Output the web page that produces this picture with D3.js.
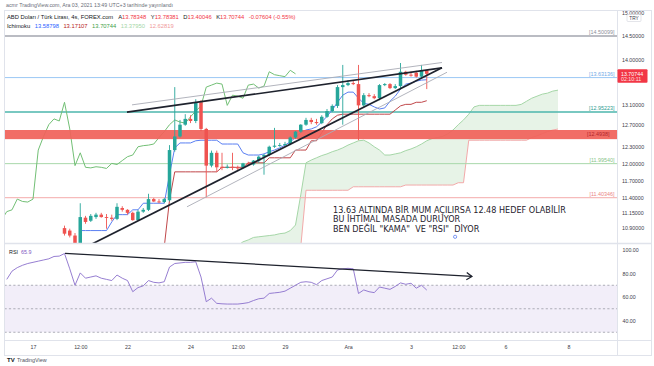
<!DOCTYPE html>
<html>
<head>
<meta charset="utf-8">
<script src="https://cdn.jsdelivr.net/npm/d3@7"></script>
<style>
html,body{margin:0;padding:0;background:#ffffff;overflow:hidden;}
svg{display:block;font-family:"Liberation Sans",Arial,sans-serif;}
</style>
</head>
<body>
<svg id="chart" width="654" height="366"></svg>
<script>
// ================= DATA =================
// 4h candles, bar index 0 = 17 Kas 00:00 ; first visible candle index:
const firstBar = 6;
const opens = [10.90,10.86,10.78,10.66,11.07,11.02,11.08,11.12,11.08,11.07,
  11.05,11.23,11.20,11.15,11.03,11.17,11.20,11.38,11.34,11.33,
  11.36,12.24,12.49,12.71,12.82,12.78,13.14,12.63,11.96,12.19,
  11.94,11.92,11.94,11.93,11.93,12.00,11.98,12.05,12.12,12.15,
  12.30,12.32,12.33,12.35,12.47,12.58,12.71,12.80,12.76,12.74,
  12.86,12.97,13.07,13.44,13.48,13.52,13.50,13.08,13.28,13.26,
  13.22,13.48,13.50,13.42,13.46,13.75,13.69,13.73,13.65,13.78348];
const highs = [10.94,10.89,10.82,11.31,11.10,11.13,11.15,11.15,11.13,11.12,
  11.31,11.26,11.21,11.17,11.20,11.23,11.47,11.40,11.38,11.40,
  12.33,13.44,12.80,12.91,12.89,13.20,13.18,12.65,12.23,12.23,
  12.19,11.98,12.19,11.96,12.01,12.03,12.06,12.14,12.17,12.32,
  12.65,12.37,12.39,12.49,12.59,12.72,12.84,12.84,12.82,12.89,
  13.01,13.10,13.48,13.89,13.58,13.56,13.89,13.32,13.32,13.30,
  13.50,13.52,13.52,13.50,13.93,13.77,13.75,13.77,13.89,13.78381];
const lows = [10.78,10.75,10.62,10.63,10.97,11.00,11.05,11.07,10.89,11.02,
  11.03,11.17,11.12,11.02,11.02,11.15,11.18,11.33,11.31,11.31,
  11.34,12.21,12.47,12.69,12.74,12.74,12.59,11.41,11.93,11.85,
  11.88,11.91,11.88,11.88,11.91,11.96,11.96,12.01,11.80,12.13,
  12.28,12.30,12.32,12.33,12.45,12.56,12.69,12.72,12.71,12.72,
  12.84,12.95,13.03,12.71,13.46,13.48,12.42,13.05,13.24,13.20,
  13.18,13.46,13.40,13.40,13.42,13.67,13.65,13.63,13.63,13.40046];
const closes = [10.81,10.78,10.66,11.08,11.00,11.10,11.12,11.08,11.07,11.05,
  11.25,11.20,11.15,11.03,11.17,11.20,11.38,11.34,11.33,11.38,
  12.24,12.49,12.71,12.82,12.78,13.14,12.63,11.96,12.19,11.93,
  11.92,11.94,11.93,11.91,12.00,11.98,12.05,12.12,12.15,12.30,
  12.32,12.33,12.35,12.47,12.58,12.71,12.80,12.76,12.74,12.86,
  12.97,13.07,13.44,13.48,13.52,13.50,13.08,13.28,13.26,13.22,
  13.48,13.50,13.42,13.46,13.75,13.69,13.67,13.65,13.78,13.70744];

// Ichimoku
const lineStart = 9;
const tenkan = [10.86,10.86,10.86,10.86,10.86,10.86,11.00,11.12,11.12,11.12,
  11.20,11.20,11.31,11.31,11.31,11.31,11.31,11.80,12.28,12.37,
  12.37,12.37,12.41,12.42,12.42,12.42,12.42,12.35,12.35,12.35,
  12.35,12.19,12.15,12.15,12.15,12.17,12.21,12.24,12.28,12.33,
  12.39,12.47,12.56,12.61,12.63,12.67,12.76,12.87,12.99,13.14,
  13.28,13.34,13.34,13.22,13.12,13.10,13.05,13.01,13.03,13.16,
  13.26,13.40,13.50,13.52,13.56,13.58,13.58798];
const kijun = [10.60,10.60,10.60,10.60,10.60,10.60,10.60,10.60,10.60,10.60,
  10.60,10.60,10.60,10.60,10.60,10.60,10.60,11.36,11.85,11.85,
  11.85,11.85,11.85,11.85,11.85,11.85,11.85,11.93,11.93,11.93,
  11.93,11.93,12.01,12.01,12.01,12.01,12.10,12.10,12.10,12.10,
  12.10,12.24,12.24,12.24,12.41,12.41,12.56,12.71,12.82,12.89,
  12.91,12.91,12.91,12.91,12.91,12.91,12.91,12.91,12.91,12.91,
  12.99,13.07,13.10,13.10,13.14,13.14,13.17107];
const chikouShift = 25;
// leading spans, given at their plotted bar index
const senkouPlotStart = 30;
const senkouA = [10.62,10.62,10.62,10.62,10.62,10.62,10.62,10.62,10.62,10.62,
  10.68,10.71,10.75,10.76,10.77,10.78,10.79,10.81,10.82,10.86,
  10.95,11.45,12.01,12.06,12.10,12.14,12.17,12.21,12.24,12.28,
  12.33,12.37,12.41,12.42,12.37,12.30,12.24,12.15,12.15,12.17,
  12.19,12.23,12.26,12.30,12.35,12.41,12.45,12.47,12.49,12.54,
  12.61,12.71,12.80,12.91,13.05,13.08,13.08,13.08,13.08,13.08,
  13.08,13.08,13.08,13.10,13.16,13.22,13.26,13.30,13.32,13.36,
  13.37950];
const senkouB = [10.60,10.60,10.60,10.60,10.60,10.60,10.60,10.60,10.60,10.60,
  10.60,10.60,10.60,10.60,10.60,10.60,10.60,10.60,10.60,10.60,
  10.60,10.60,11.53,11.53,11.53,11.53,11.53,11.53,11.53,11.53,
  11.53,11.59,11.59,11.59,11.59,11.59,11.59,11.59,11.59,11.59,
  11.59,11.62,11.62,11.62,11.62,11.62,11.62,11.62,11.62,11.62,
  11.62,11.66,11.66,12.42,12.42,12.42,12.42,12.42,12.42,12.42,
  12.42,12.42,12.42,12.42,12.42,12.47,12.50,12.54,12.58,12.61,
  12.62819];

// RSI (14)
const rsiStart = -5;
const rsi = [75,82,85,87,88.5,89.5,90.5,91.5,92.5,94.5,
  94.8,97,84,70,80.5,76,77,78,76,75,
  74,78.7,76,74,64.5,68,69.5,74,72.5,72,
  73,85.5,88.5,89,89.5,89.5,90,77,56,59,
  54.6,54.2,54,54,54,54.5,55.2,57,58.5,59,
  63,63.5,64,65,67.5,70,72.5,73,72.5,70.5,
  74,75.5,77,83,84,84.4,84,63,66,64.5,
  63.7,68.5,67.5,66.5,69,72,70.8,71.7,67.5,70,
  65.9];

// horizontal levels and zone
const levelPrices = [14.50099, 13.63136, 12.95223, 11.99540, 11.40346];
const levelLabels = ["[14.50099]","[13.63136]","[12.95223]","[11.99540]","[11.40346]"];
const zoneLow = 12.44, zoneHigh = 12.61, zoneLabel = "[12.4938]";

// drawings: [barIndex, price]
const wedgeUpper = [[17.9, 12.95], [77.9, 13.83]];
const wedgeLower = [[10.86, 10.63], [77.9, 13.83]];
const channelUpper = [[18.86, 13.09], [77.9, 13.94]];
const channelLower = [[29.33, 11.25], [78.86, 13.74]];
const wedgeFill = [[26.1, 13.07], [77.9, 13.83], [26.1, 11.28]];
const rsiTrend = [[6.1, 97.2], [83.6, 77.5]];
const notePoint = [80.4, 10.76];
const noteLines = ["13.63 ALTINDA BİR MUM AÇILIRSA 12.48 HEDEF OLABİLİR",
  "BU İHTİMAL MASADA DURUYOR",
  "BEN DEĞİL \"KAMA\"  VE \"RSI\"  DİYOR"];
const noteAnchor = [57.15, 11.15];

// axes
const priceTicks = [15, 14.5, 14, 13.1, 12.7, 12.3, 12.0, 11.7, 11.4, 11.15, 10.9];
const rsiTicks = [100, 80, 60, 40];
const rsiLevels = [70, 50, 30];
const timeTickIdx = [0, 9, 18, 30, 39, 48, 60, 72, 81, 90, 102];
const timeTickLabels = ["17","12:00","22","24","12:00","29","Ara","3","12:00","6","8"];

// texts
const headerText = "acmr TradingView.com, Ara 03, 2021 13:49 UTC+3 tarihinde yayınlandı";
const symbolName = "ABD Doları / Türk Lirası, 4s, FOREX.com";
const ohlcLetters = ["A","Y","D","K"];
const changeText = "-0.07604 (-0.55%)";
const countdown = "02:10:11";

// ================= RENDER =================
const X0 = 33, BAR = 5.25;
const x = d3.scaleLinear().domain([0, 102]).range([X0, X0 + 102 * BAR]);
const yP = d3.scaleLog().domain([10.9, 14.5]).range([228.1, 36]);
const yR = d3.scaleLinear().domain([0, 100]).range([367.5, 250]);

const L = 4.5, R = 617.5, T = 10.5, MB = 243.5, RB = 340.5, AB = 355.5, WR = 651.5;
const f5 = d3.format(".5f");
const UI = "'Liberation Sans', Arial, sans-serif";

const svg = d3.select("#chart");
svg.append("rect").attr("width", 654).attr("height", 366).attr("fill", "#ffffff");
const defs = svg.append("defs");
defs.append("clipPath").attr("id", "mainClip").append("rect")
  .attr("x", L).attr("y", T).attr("width", R - L).attr("height", MB - T);
defs.append("clipPath").attr("id", "rsiClip").append("rect")
  .attr("x", L).attr("y", MB).attr("width", R - L).attr("height", RB - MB);

const main = svg.append("g").attr("clip-path", "url(#mainClip)");

// cloud
const senkou = senkouA.map((a, k) => ({ j: senkouPlotStart + k, a: a, b: senkouB[k] }));
main.append("path").datum(senkou)
  .attr("d", d3.area().x(d => x(d.j)).y0(d => yP(d.b)).y1(d => yP(d.a)))
  .attr("fill", "rgba(67,160,71,0.13)");
main.append("path").datum(senkou)
  .attr("d", d3.line().x(d => x(d.j)).y(d => yP(d.a)))
  .attr("fill", "none").attr("stroke", "#a5d6a7").attr("stroke-width", 1);
main.append("path").datum(senkou)
  .attr("d", d3.line().x(d => x(d.j)).y(d => yP(d.b)))
  .attr("fill", "none").attr("stroke", "#f2a9a9").attr("stroke-width", 1);

// level lines
const levelStroke = ["#a3a6af", "#9cc8f5", "#4db6ac", "#a8d8aa", "#f4aaaa"];
const levelWidth = [1.5, 1, 1.4, 1, 1];
main.selectAll(".lvl").data(levelPrices).join("line")
  .attr("x1", L).attr("x2", R)
  .attr("y1", d => yP(d)).attr("y2", d => yP(d))
  .attr("stroke", (d, k) => levelStroke[k]).attr("stroke-width", (d, k) => levelWidth[k]);

// wedge fill
main.append("path").datum(wedgeFill)
  .attr("d", d3.line().x(d => x(d[0])).y(d => yP(d[1])) + "Z")
  .attr("fill", "rgba(239,83,80,0.11)");

// ichimoku lines
const tkData = tenkan.map((v, k) => [lineStart + k, v]);
const kjData = kijun.map((v, k) => [lineStart + k, v]);
const chData = closes.map((v, k) => [firstBar + k - chikouShift, v]);
const ln = d3.line().x(d => x(d[0])).y(d => yP(d[1]));
main.append("path").datum(chData).attr("d", ln).attr("fill", "none").attr("stroke", "#72bf75").attr("stroke-width", 1);
main.append("path").datum(kjData).attr("d", ln).attr("fill", "none").attr("stroke", "#c0474a").attr("stroke-width", 1);
main.append("path").datum(tkData).attr("d", ln).attr("fill", "none").attr("stroke", "#5a7ff2").attr("stroke-width", 1);

// zone
main.append("rect")
  .attr("x", L).attr("width", R - L)
  .attr("y", yP(zoneHigh)).attr("height", yP(zoneLow) - yP(zoneHigh))
  .attr("fill", "#f0625a").attr("opacity", 0.93);

// candles
const candles = opens.map((o, k) => ({ i: firstBar + k, o: o, h: highs[k], l: lows[k], c: closes[k] }));
const cg = main.append("g");
const up = "#26a69a", dn = "#ef5350";
cg.selectAll(".wick").data(candles).join("line")
  .attr("x1", d => x(d.i)).attr("x2", d => x(d.i))
  .attr("y1", d => yP(d.h)).attr("y2", d => yP(d.l))
  .attr("stroke", d => d.c >= d.o ? up : dn).attr("stroke-width", 0.9);
cg.selectAll(".body").data(candles).join("rect")
  .attr("x", d => x(d.i) - 1.75).attr("width", 3.5)
  .attr("y", d => yP(Math.max(d.o, d.c)))
  .attr("height", d => Math.max(0.9, Math.abs(yP(d.o) - yP(d.c))))
  .attr("fill", d => d.c >= d.o ? up : dn);

// trend lines
[channelUpper, channelLower].forEach(p => {
  main.append("path").datum(p).attr("d", ln).attr("fill", "none")
    .attr("stroke", "#a9acb5").attr("stroke-width", 0.9);
});
[wedgeUpper, wedgeLower].forEach(p => {
  main.append("path").datum(p).attr("d", ln).attr("fill", "none")
    .attr("stroke", "#1e222d").attr("stroke-width", 1.7);
});

// note text
const note = main.append("text")
  .attr("x", x(noteAnchor[0])).attr("y", yP(noteAnchor[1]))
  .style("font-family", "'DejaVu Sans', Verdana, sans-serif")
  .style("white-space", "pre")
  .attr("xml:space", "preserve")
  .attr("font-size", 8.1).attr("fill", "#1e222d");
noteLines.forEach((t, k) => {
  note.append("tspan").attr("x", x(noteAnchor[0])).attr("dy", k === 0 ? 0 : 9.4).text(t);
});
main.append("circle").attr("cx", x(notePoint[0])).attr("cy", yP(notePoint[1])).attr("r", 1.6)
  .attr("fill", "none").attr("stroke", "#5b7cf0").attr("stroke-width", 0.8);

// level labels
const labelColor = ["#8d909a", "#6fa8e6", "#2e9d92", "#86c489", "#ea8585"];
svg.selectAll(".lvlLbl").data(levelPrices).join("text")
  .attr("x", R - 3).attr("y", d => yP(d) - 1.8)
  .attr("text-anchor", "end").attr("font-size", 5.4)
  .attr("fill", (d, k) => labelColor[k]).text((d, k) => levelLabels[k]);
svg.append("text").attr("x", R - 8).attr("y", (yP(zoneHigh) + yP(zoneLow)) / 2 + 1.8)
  .attr("text-anchor", "end").attr("font-size", 5.4).attr("fill", "#b3262c").text(zoneLabel);

// ===== RSI pane =====
const rsiG = svg.append("g").attr("clip-path", "url(#rsiClip)");
rsiG.append("rect").attr("x", L).attr("width", R - L)
  .attr("y", yR(70)).attr("height", yR(30) - yR(70)).attr("fill", "rgba(126,87,194,0.1)");
rsiG.selectAll(".rl").data(rsiLevels).join("line")
  .attr("x1", L).attr("x2", R).attr("y1", d => yR(d)).attr("y2", d => yR(d))
  .attr("stroke", "#9a9ca6").attr("stroke-width", 0.8).attr("stroke-dasharray", "2.2,2.2");
const rsiData = rsi.map((v, k) => [rsiStart + k, v]);
rsiG.append("path").datum(rsiData)
  .attr("d", d3.line().x(d => x(d[0])).y(d => yR(d[1])))
  .attr("fill", "none").attr("stroke", "#8a6fcc").attr("stroke-width", 0.9);
// rsi trend arrow
const ax1 = x(rsiTrend[0][0]), ay1 = yR(rsiTrend[0][1]);
const ax2 = x(rsiTrend[1][0]), ay2 = yR(rsiTrend[1][1]);
rsiG.append("line").attr("x1", ax1).attr("y1", ay1).attr("x2", ax2).attr("y2", ay2)
  .attr("stroke", "#1e222d").attr("stroke-width", 1.3);
const ang = Math.atan2(ay2 - ay1, ax2 - ax1);
const hl = 6.5, ha = 0.6;
rsiG.append("path")
  .attr("d", `M${ax2 - hl * Math.cos(ang - ha)},${ay2 - hl * Math.sin(ang - ha)}L${ax2},${ay2}L${ax2 - hl * Math.cos(ang + ha)},${ay2 - hl * Math.sin(ang + ha)}`)
  .attr("fill", "none").attr("stroke", "#1e222d").attr("stroke-width", 1.3);

svg.append("text").attr("x", 9).attr("y", 254).attr("font-size", 5.4)
  .call(t => {
    t.append("tspan").attr("fill", "#131722").text("RSI");
    t.append("tspan").attr("dx", 3).attr("fill", "#7e57c2").text(d3.format(".1f")(rsi[rsi.length - 1]));
  });

// ===== frames & separators =====
const frame = svg.append("g").attr("stroke", "#e0e3eb").attr("fill", "none");
frame.append("rect").attr("x", L).attr("y", T).attr("width", WR - L).attr("height", AB - T);
frame.append("line").attr("x1", L).attr("x2", WR).attr("y1", MB).attr("y2", MB).attr("stroke-width", 1.5);
frame.append("line").attr("x1", L).attr("x2", WR).attr("y1", RB).attr("y2", RB);
frame.append("line").attr("x1", R).attr("x2", R).attr("y1", T).attr("y2", AB);

// ===== axes =====
const pAxis = svg.append("g").attr("transform", `translate(${R},0)`)
  .call(d3.axisRight(yP).tickValues(priceTicks).tickFormat(f5).tickSize(0).tickPadding(4.5));
const rAxis = svg.append("g").attr("transform", `translate(${R},0)`)
  .call(d3.axisRight(yR).tickValues(rsiTicks).tickFormat(d3.format(".2f")).tickSize(0).tickPadding(5));
const tAxis = svg.append("g").attr("transform", `translate(0,${RB})`)
  .call(d3.axisBottom(x).tickValues(timeTickIdx).tickFormat((d, k) => timeTickLabels[k]).tickSize(0).tickPadding(4.6));
[pAxis, rAxis, tAxis].forEach(g => {
  g.select(".domain").remove();
  g.attr("font-family", UI);
  g.selectAll("text").attr("font-size", 5.3).attr("fill", "#3d404a");
});

// currency badge
svg.append("rect").attr("x", 627).attr("y", 14.5).attr("width", 14).attr("height", 7).attr("rx", 1)
  .attr("fill", "#ffffff").attr("stroke", "#d1d4dc").attr("stroke-width", 0.6);
svg.append("text").attr("x", 634).attr("y", 20).attr("text-anchor", "middle")
  .attr("font-size", 4.8).attr("fill", "#3d404a").text("TRY");

// last price label
const lastC = closes[closes.length - 1];
svg.append("rect").attr("x", R).attr("y", yP(lastC) - 4.5).attr("width", 30).attr("height", 13.5).attr("rx", 1)
  .attr("fill", "#f23645");
svg.append("text").attr("x", R + 3.5).attr("y", yP(lastC) + 1.8).attr("font-size", 5.3)
  .attr("fill", "#ffffff").text(f5(lastC));
svg.append("text").attr("x", R + 3.5).attr("y", yP(lastC) + 7.6).attr("font-size", 5.3)
  .attr("fill", "#ffe3e3").text(countdown);

// ===== header & legend =====
svg.append("text").attr("x", 6).attr("y", 7).attr("font-size", 5.3).attr("fill", "#6a6d78").text(headerText);

const last = opens.length - 1;
const ohlcVals = [opens[last], highs[last], lows[last], closes[last]];
const lg1 = svg.append("text").attr("x", 7).attr("y", 18.8).attr("font-size", 5.8);
lg1.append("tspan").attr("fill", "#131722").text(symbolName);
ohlcLetters.forEach((l, k) => {
  lg1.append("tspan").attr("dx", k === 0 ? 5 : 4.5).attr("fill", "#131722").text(l);
  lg1.append("tspan").attr("fill", "#f23645").text(f5(ohlcVals[k]));
});
lg1.append("tspan").attr("dx", 4.5).attr("fill", "#f23645").text(changeText);

const lg2 = svg.append("text").attr("x", 7).attr("y", 27.6).attr("font-size", 5.8);
lg2.append("tspan").attr("fill", "#131722").text("Ichimoku");
const ichiVals = [tenkan[tenkan.length - 1], kijun[kijun.length - 1], closes[last], senkouA[senkouA.length - 1], senkouB[senkouB.length - 1]];
const ichiCols = ["#2962ff", "#b71c1c", "#43a047", "#a5d6a7", "#ef9a9a"];
ichiVals.forEach((v, k) => {
  lg2.append("tspan").attr("dx", 4.5).attr("fill", ichiCols[k]).text(f5(v));
});

// logo
svg.append("text").attr("x", 7).attr("y", 362).attr("font-size", 6).attr("font-weight", "bold")
  .attr("fill", "#131722").text("TV");
svg.append("text").attr("x", 17).attr("y", 362).attr("font-size", 5.4).attr("fill", "#50535e").text("TradingView");
</script>
</body>
</html>
